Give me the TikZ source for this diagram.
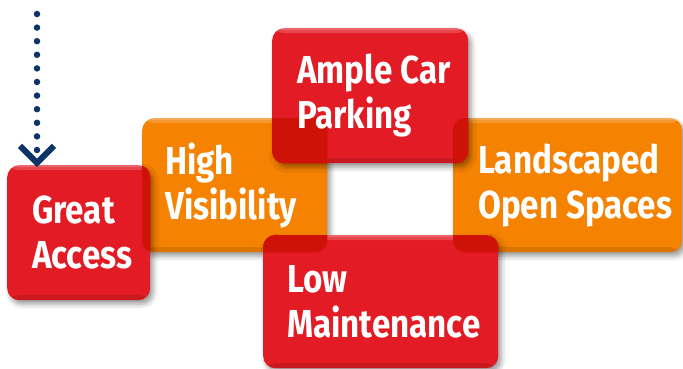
\documentclass[tikz,border=0pt]{standalone}
\usepackage{fontspec}
\newfontfamily\tilefont{Fira Sans}[FakeStretch=0.85]
\usetikzlibrary{arrows.meta,shadows.blur}

\definecolor{tilered}{RGB}{226,27,36}
\definecolor{tileorange}{RGB}{245,130,0}
\definecolor{overlapred}{RGB}{206,18,8}
\definecolor{pathnavy}{RGB}{12,52,102}

\tikzset{
  tile/.style={rounded corners=12pt, anchor=north west, inner sep=0pt,
    blur shadow={shadow xshift=3pt, shadow yshift=-4pt,
                 shadow blur radius=5pt, shadow opacity=40},
    path picture={
      \fill[white, opacity=0.18] (path picture bounding box.north west)
        rectangle ([yshift=-5pt]path picture bounding box.north east);
      \fill[white, opacity=0.18] (path picture bounding box.north west)
        rectangle ([yshift=-2pt]path picture bounding box.north east);
      \fill[black, opacity=0.10] (path picture bounding box.south west)
        rectangle ([yshift=5pt]path picture bounding box.south east);
    }},
  redtile/.style={tile, fill=tilered},
  orangetile/.style={tile, fill=tileorange},
  caption/.style={anchor=west, text=white, align=left, inner sep=0pt,
    font=\tilefont\bfseries\fontsize{39}{45}\selectfont},
  dotpath/.style={pathnavy, line width=6.5pt, line cap=round,
    dash pattern=on 0pt off 13.6pt,
    -{Straight Barb[length=17pt, width=34pt, line width=6pt, line cap=butt]}},
}

\begin{document}
\begin{tikzpicture}[x=1pt, y=-1pt]
  \useasboundingbox (0,0) rectangle (683,369);

  % orange tiles underneath
  \node[orangetile, minimum width=185pt, minimum height=134pt] (hv) at (142,118) {};
  \node[orangetile, minimum width=229pt, minimum height=134pt] (ls) at (453,118) {};

  % red tiles on top
  \node[redtile, minimum width=143pt, minimum height=135pt] (ga) at (7,165) {};
  \node[redtile, minimum width=196pt, minimum height=135pt] (ac) at (272,28) {};
  \node[redtile, minimum width=235pt, minimum height=133pt] (lm) at (263,235) {};

  % darker red where the red tiles cover the orange ones
  \foreach \under/\over in {hv/ga, hv/ac, hv/lm, ls/ac, ls/lm}{
    \begin{scope}
      \clip[rounded corners=12pt] (\under.north west) rectangle (\under.south east);
      \fill[overlapred, rounded corners=12pt] (\over.north west) rectangle (\over.south east);
    \end{scope}
  }

  % captions
  \node[caption] (gat) at ([xshift=25pt]ga.west) {Great\\Access};
  \node[caption] (hvt) at ([xshift=23pt]hv.west) {High\\Visibility};
  \node[caption] (act) at ([xshift=25pt]ac.west) {Ample Car\\Parking};
  \node[caption] (lst) at ([xshift=25pt]ls.west) {Landscaped\\Open Spaces};
  \node[caption] (lmt) at ([xshift=24pt]lm.west) {Low\\Maintenance};

  % dotted pointer into the first tile
  \coordinate (dotstart) at (37,14);
  \draw[dotpath] (dotstart) -- ([yshift=-2pt]dotstart |- ga.north);
\end{tikzpicture}
\end{document}
